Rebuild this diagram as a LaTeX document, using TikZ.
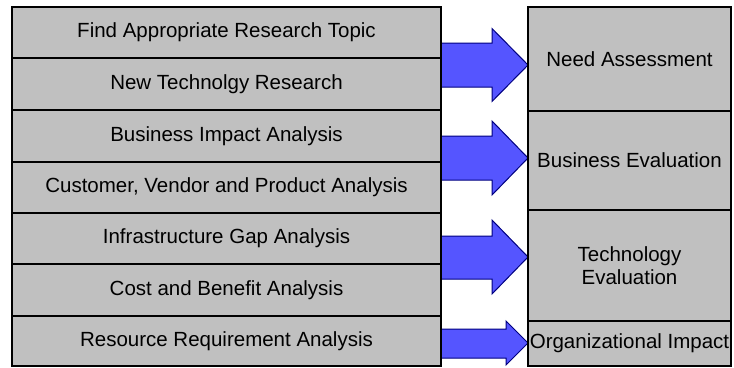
\documentclass[tikz,border=0pt]{standalone}
\usepackage{fontspec}
\setmainfont{Liberation Sans}
\definecolor{boxgray}{RGB}{192,192,192}
\definecolor{arrowfill}{RGB}{85,85,255}
\definecolor{arrowline}{RGB}{0,0,128}
\tikzset{
  box/.style={draw=black, line width=1.4pt, fill=boxgray, inner sep=0pt,
    font=\fontsize{20.5}{22.5}\selectfont, text=black, align=center},
  leftbox/.style={box, minimum width=429pt},
  rightbox/.style={box, minimum width=203pt},
  blockarrow/.style={draw=arrowline, fill=arrowfill, line width=1pt, line join=miter}
}
\begin{document}
\begin{tikzpicture}[x=1pt,y=-1pt]
\useasboundingbox (0,0) rectangle (734,367);
% block arrows (drawn first, boxes on top)
\draw[blockarrow] (441,43) -- (492,43) -- (492,28.5) -- (528,65) -- (492,101.5) -- (492,87) -- (441,87) -- cycle;
\draw[blockarrow] (441,136) -- (492,136) -- (492,121) -- (528,158) -- (492,195) -- (492,180) -- (441,180) -- cycle;
\draw[blockarrow] (441,236) -- (492,236) -- (492,220) -- (528,257) -- (492,294) -- (492,279) -- (441,279) -- cycle;
\draw[blockarrow] (441,329) -- (506,329) -- (506,321) -- (528,343) -- (506,365) -- (506,358) -- (441,358) -- cycle;
% left column
\node[leftbox, minimum height=51pt] (l1) at (226.5,32.5) {Find Appropriate Research Topic};
\node[leftbox, minimum height=52pt] (l2) at (226.5,84) {New Technolgy Research};
\node[leftbox, minimum height=52pt] (l3) at (226.5,136) {Business Impact Analysis};
\node[leftbox, minimum height=51pt] (l4) at (226.5,187.5) {Customer, Vendor and Product Analysis};
\node[leftbox, minimum height=51pt] (l5) at (226.5,238.5) {Infrastructure Gap Analysis};
\node[leftbox, minimum height=52pt] (l6) at (226.5,290) {Cost and Benefit Analysis};
\node[leftbox, minimum height=50pt] (l7) at (226.5,341) {Resource Requirement Analysis};
% right column
\node[rightbox, minimum height=104pt] (r1) at (629.5,59) {Need Assessment};
\node[rightbox, minimum height=99pt] (r2) at (629.5,160.5) {Business Evaluation};
\node[rightbox, minimum height=111pt] (r3) at (629.5,265.5) {Technology\\Evaluation};
\node[rightbox, minimum height=45pt] (r4) at (629.5,343.5) {Organizational Impact};
\end{tikzpicture}
\end{document}
